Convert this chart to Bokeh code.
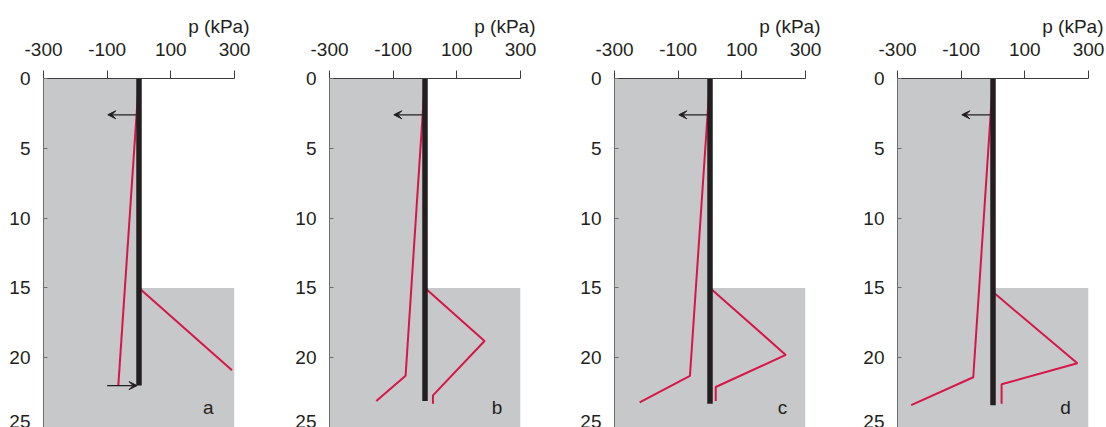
from bokeh.plotting import figure
from bokeh.models import Range1d, FixedTicker, Label, Arrow, VeeHead, Title
from bokeh.layouts import row
from bokeh.embed import file_html
from bokeh.resources import INLINE

# ---- data ----
x_ticks = [-300, -100, 100, 300]
x_tick_labels = ["-300", "-100", "100", "300"]
y_ticks = [0, 5, 10, 15, 20, 25]
y_tick_labels = ["0", "5", "10", "15", "20", "25"]
panel_names = ["a", "b", "c", "d"]
x_title = "p (kPa)"
excavation_depth = 15
wall_bottom = [22.0, 23.1, 23.3, 23.4]

left_p = [[0, -65], [0, -61, -153], [0, -63, -221], [0, -62, -257]]
left_z = [[0, 22.0], [0, 21.3, 23.1], [0, 21.3, 23.2], [0, 21.4, 23.4]]
right_p = [[0, 292], [0, 187, 25, 25], [0, 238, 18, 18], [0, 265, 27, 27]]
right_z = [[15.0, 20.9], [15.0, 18.8, 22.7, 23.3], [15.0, 19.8, 22.1, 23.1], [15.3, 20.4, 21.9, 23.3]]

anchor_depth = 2.6
anchor_p = [-8, -98]
bottom_arrow_depth = 22.0
bottom_arrow_p = [-100, -6]

FONT = "Liberation Sans"
FS = "19px"
GREY = "#c7c8ca"
RED = "#d6154b"
INK = "#231f20"

widths = [286, 285, 283, 252]
frame_w = 191
left_b = 43
letter_x = [218, 226, 228, 228]

figs = []
for i, name in enumerate(panel_names):
    p = figure(width=widths[i], height=427, frame_width=frame_w, frame_height=349,
               x_range=Range1d(-300, 300), y_range=Range1d(25, 0),
               x_axis_location="above", output_backend="svg", toolbar_location=None,
               min_border_left=left_b, min_border_right=widths[i] - left_b - frame_w,
               min_border_top=78, min_border_bottom=0)
    p.outline_line_color = None
    p.grid.visible = False
    p.background_fill_color = "white"
    p.border_fill_color = "white"

    # soil regions
    p.quad(left=[-300], right=[0], top=[0], bottom=[25], fill_color=GREY, line_color=None)
    p.quad(left=[0], right=[300], top=[excavation_depth], bottom=[25], fill_color=GREY, line_color=None)

    # pressure lines
    p.line(left_p[i], left_z[i], line_color=RED, line_width=2)
    p.line(right_p[i], right_z[i], line_color=RED, line_width=2)

    # wall
    p.line([0, 0], [0, wall_bottom[i]], line_color=INK, line_width=5.5)

    # anchor arrow(s)
    p.add_layout(Arrow(end=VeeHead(size=8, fill_color=INK, line_color=INK, line_width=1),
                       x_start=anchor_p[0], y_start=anchor_depth,
                       x_end=anchor_p[1], y_end=anchor_depth,
                       line_color=INK, line_width=1.2))
    if i == 0:
        p.add_layout(Arrow(end=VeeHead(size=8, fill_color=INK, line_color=INK, line_width=1),
                           x_start=bottom_arrow_p[0], y_start=bottom_arrow_depth,
                           x_end=bottom_arrow_p[1], y_end=bottom_arrow_depth,
                           line_color=INK, line_width=1.2))

    # panel letter
    p.add_layout(Label(x=letter_x[i], y=23.55, text=name, text_font=FONT, text_font_size=FS,
                       text_color=INK, text_align="center", text_baseline="middle"))
    # axis title
    p.add_layout(Title(text=x_title, align="right", offset=-15, text_font=FONT,
                       text_font_size=FS, text_font_style="normal", text_color=INK,
                       standoff=6), "above")

    xa = p.xaxis[0]
    xa.ticker = FixedTicker(ticks=x_ticks)
    xa.major_label_overrides = {t: l for t, l in zip(x_ticks, x_tick_labels)}
    xa.major_tick_out = 8
    xa.major_tick_in = 0
    xa.minor_tick_out = 0
    xa.minor_tick_in = 0
    xa.major_label_standoff = 15
    xa.major_label_text_font = FONT
    xa.major_label_text_font_size = FS
    xa.major_label_text_color = INK
    xa.axis_line_color = "#3c3c3e"
    xa.major_tick_line_color = "#3c3c3e"

    ya = p.yaxis[0]
    ya.ticker = FixedTicker(ticks=y_ticks)
    ya.major_label_overrides = {t: l for t, l in zip(y_ticks, y_tick_labels)}
    ya.major_tick_out = 0
    ya.major_tick_in = 4
    ya.minor_tick_out = 0
    ya.minor_tick_in = 0
    ya.major_label_standoff = 13
    ya.major_label_text_font = FONT
    ya.major_label_text_font_size = FS
    ya.major_label_text_color = INK
    ya.major_label_text_baseline = "alphabetic"
    ya.axis_line_color = "#6d6e71"
    ya.major_tick_line_color = "#6d6e71"
    figs.append(p)

layout = row(*figs, spacing=0)
open("out.html", "w").write(file_html(layout, INLINE))
